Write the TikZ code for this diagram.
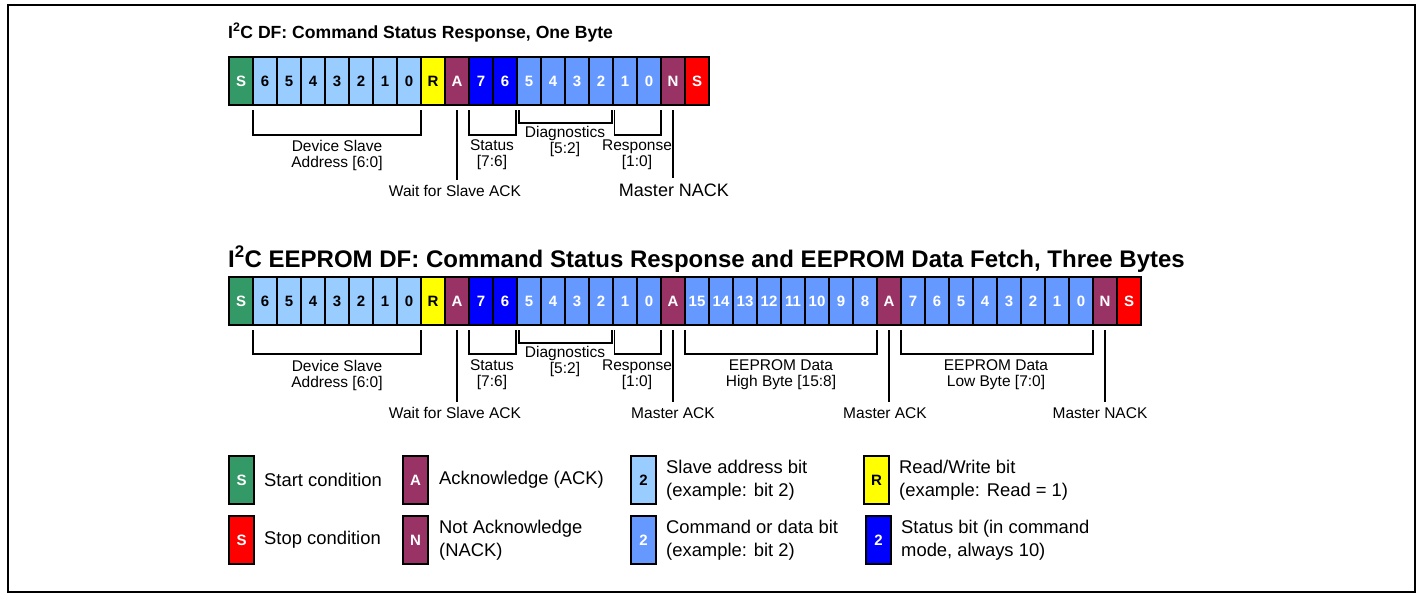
\documentclass[tikz,border=0pt]{standalone}
\usepackage{fontspec}
\setmainfont{Liberation Sans}
\usetikzlibrary{calc}
\definecolor{cG}{RGB}{51,153,102}
\definecolor{cLB}{RGB}{153,204,255}
\definecolor{cMB}{RGB}{102,153,255}
\definecolor{cDB}{RGB}{0,0,255}
\definecolor{cP}{RGB}{153,51,102}
\definecolor{cY}{RGB}{255,255,0}
\definecolor{cR}{RGB}{255,0,0}
\newcommand\mybitfont{\fontsize{15}{16}\selectfont\bfseries}
\newcommand\mylblfont{\fontsize{15.5}{16}\selectfont}
\newcommand\mylegfont{\fontsize{18.4}{22.5}\selectfont}
\newcommand\mytitlefont{\fontsize{17.6}{20}\selectfont\bfseries}
\newcommand\mytitlefontb{\fontsize{24}{26}\selectfont\bfseries}
\begin{document}
\begin{tikzpicture}[x=1pt,y=-1pt,
  cell/.style={draw=black, line width=1.3pt, minimum width=24pt, minimum height=48pt,
    inner sep=0pt, outer sep=0pt, anchor=north west, font=\mybitfont},
  lbl/.style={font=\mylblfont, align=center, inner sep=0pt},
  leg/.style={font=\mylegfont, align=left, inner sep=0pt, anchor=west},
  brk/.style={line width=1.3pt},
  ttl/.style={font=\mytitlefont, inner sep=0pt, anchor=base west}]
\useasboundingbox (0,0) rectangle (1419,597);
\draw[line width=2pt] (8,5) rectangle (1415,592);

% ---------- Row 1 ----------
\node[ttl] (title1) at (228,38) {I\textsuperscript{2}C DF: Command Status Response, One Byte};
\foreach \t/\f/\c [count=\i from 0] in {S/cG/white,6/cLB/black,5/cLB/black,4/cLB/black,3/cLB/black,2/cLB/black,1/cLB/black,0/cLB/black,R/cY/black,A/cP/white,7/cDB/white,6/cDB/white,5/cMB/white,4/cMB/white,3/cMB/white,2/cMB/white,1/cMB/white,0/cMB/white,N/cP/white,S/cR/white}
  \node[cell,fill=\f,text=\c] (a\i) at ({229+24*\i},57) {\t};

\draw[brk] ($(a1.south west)+(0,5)$) -- ++(0,25) -| ($(a7.south east)+(0,5)$);
\draw[brk] ($(a10.south west)+(0,5)$) -- ++(0,25) -| ($(a11.south east)+(-1,5)$);
\draw[brk] ($(a12.south west)+(2,5)$) -- ++(0,13) -| ($(a15.south east)+(-1,5)$);
\draw[brk] ($(a16.south west)+(1.5,5)$) -- ++(0,25) -| ($(a17.south east)+(0,5)$);
\draw[brk] ($(a9.south)+(0,5)$) -- ++(0,70);
\draw[brk] ($(a18.south)+(0,5)$) -- ++(0,68);

\node[lbl] (l1) at (337,155) {Device Slave\\Address [6:0]};
\node[lbl] (l2) at (492,155) {Status\\{[7:6]}};
\node[lbl] (l3) at (565,141.5) {Diagnostics\\{[5:2]}};
\node[lbl] (l4) at (637,155) {Response\\{[1:0]}};
\node[lbl] (l5) at (455,191) {Wait for Slave ACK};
\node[lbl, font=\fontsize{18}{20}\selectfont] (l6) at (674,190) {Master NACK};

% ---------- Row 2 ----------
\node[ttl, font=\mytitlefontb] (title2) at (228,267) {I\textsuperscript{2}C EEPROM DF: Command Status Response and EEPROM Data Fetch, Three Bytes};
\foreach \t/\f/\c [count=\i from 0] in {S/cG/white,6/cLB/black,5/cLB/black,4/cLB/black,3/cLB/black,2/cLB/black,1/cLB/black,0/cLB/black,R/cY/black,A/cP/white,7/cDB/white,6/cDB/white,5/cMB/white,4/cMB/white,3/cMB/white,2/cMB/white,1/cMB/white,0/cMB/white,A/cP/white,15/cMB/white,14/cMB/white,13/cMB/white,12/cMB/white,11/cMB/white,10/cMB/white,9/cMB/white,8/cMB/white,A/cP/white,7/cMB/white,6/cMB/white,5/cMB/white,4/cMB/white,3/cMB/white,2/cMB/white,1/cMB/white,0/cMB/white,N/cP/white,S/cR/white}
  \node[cell,fill=\f,text=\c] (b\i) at ({229+24*\i},277) {\t};

\draw[brk] ($(b1.south west)+(0,5)$) -- ++(0,24) -| ($(b7.south east)+(0,5)$);
\draw[brk] ($(b10.south west)+(0,5)$) -- ++(0,24) -| ($(b11.south east)+(-1,5)$);
\draw[brk] ($(b12.south west)+(2,5)$) -- ++(0,13) -| ($(b15.south east)+(-1,5)$);
\draw[brk] ($(b16.south west)+(1.5,5)$) -- ++(0,24) -| ($(b17.south east)+(0,5)$);
\draw[brk] ($(b19.south west)+(0,5)$) -- ++(0,24) -| ($(b26.south east)+(0,5)$);
\draw[brk] ($(b28.south west)+(0,5)$) -- ++(0,24) -| ($(b35.south east)+(0,5)$);
\draw[brk] ($(b9.south)+(0,5)$) -- ++(0,72);
\draw[brk] ($(b18.south)+(0,5)$) -- ++(0,72);
\draw[brk] ($(b27.south)+(0,5)$) -- ++(0,72);
\draw[brk] ($(b36.south)+(0,5)$) -- ++(0,72);

\node[lbl] (m1) at (337,375) {Device Slave\\Address [6:0]};
\node[lbl] (m2) at (492,375) {Status\\{[7:6]}};
\node[lbl] (m3) at (565,361) {Diagnostics\\{[5:2]}};
\node[lbl] (m4) at (637,375) {Response\\{[1:0]}};
\node[lbl] (m5) at (781,375) {EEPROM Data\\High Byte [15:8]};
\node[lbl] (m6) at (996,375) {EEPROM Data\\Low Byte [7:0]};
\node[lbl] (m7) at (455,413) {Wait for Slave ACK};
\node[lbl] (m8) at (673,413) {Master ACK};
\node[lbl] (m9) at (885,413) {Master ACK};
\node[lbl] (m10) at (1100,413) {Master NACK};

% ---------- Legend ----------
\node[cell, minimum width=25pt, fill=cG, text=white] (k1) at (229,456) {S};
\node[leg] (t1) at (264,480) {Start condition};
\node[cell, minimum width=25pt, fill=cR, text=white] (k2) at (229,516) {S};
\node[leg] (t2) at (264,540) {Stop condition};
\node[cell, minimum width=25pt, fill=cP, text=white] (k3) at (403,456) {A};
\node[leg] (t3) at (439,480) {Acknowledge (ACK)};
\node[cell, minimum width=25pt, fill=cP, text=white] (k4) at (403,516) {N};
\node[leg] (t4) at (439,540) {Not Acknowledge\\(NACK)};
\node[cell, minimum width=25pt, fill=cLB, text=black] (k5) at (631,456) {2};
\node[leg] (t5) at (666,480) {Slave address bit\\(example: bit 2)};
\node[cell, minimum width=25pt, fill=cMB, text=white] (k6) at (631,516) {2};
\node[leg] (t6) at (666,540) {Command or data bit\\(example: bit 2)};
\node[cell, minimum width=25pt, fill=cY, text=black] (k7) at (864,456) {R};
\node[leg] (t7) at (899,480) {Read/Write bit\\(example: Read = 1)};
\node[cell, minimum width=25pt, fill=cDB, text=white] (k8) at (866,516) {2};
\node[leg] (t8) at (901,540) {Status bit (in command\\mode, always 10)};
\end{tikzpicture}
\end{document}
